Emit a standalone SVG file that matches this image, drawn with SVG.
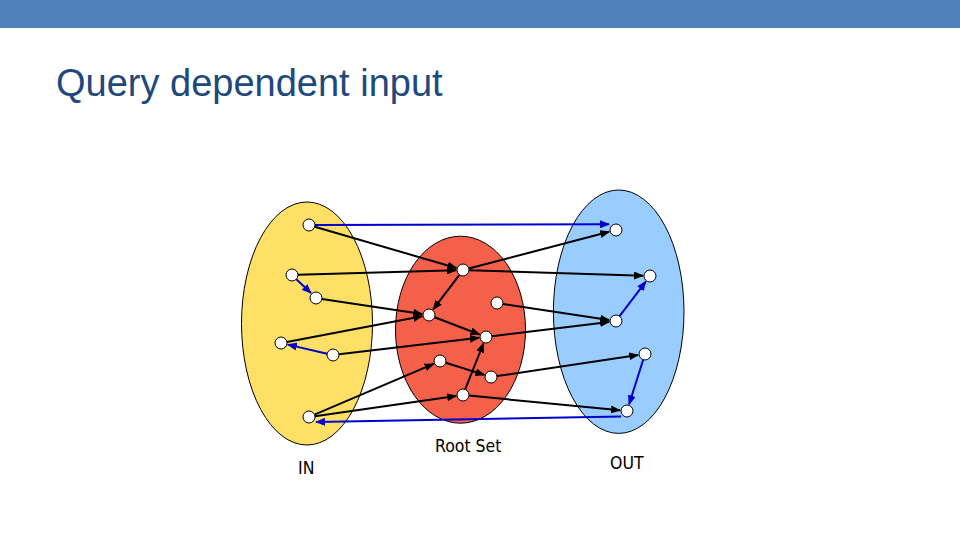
<svg xmlns="http://www.w3.org/2000/svg" width="960" height="540" viewBox="0 0 960 540">
<style>
.set{stroke:#000;stroke-width:1}
.nd{fill:#fff;stroke:#000;stroke-width:1}
.bk{stroke:#000;stroke-width:2;fill:none;marker-end:url(#ab)}
.bl{stroke:#0000CC;stroke-width:2;fill:none;marker-end:url(#au)}
.lbl{font-family:"DejaVu Sans Condensed","DejaVu Sans",sans-serif;font-size:17.5px;fill:#000}
.title{font-family:"Liberation Sans",Arial,sans-serif;font-size:38px;fill:#1F497D}
</style>
<defs>
<marker id="ab" viewBox="0 0 10 8" refX="9" refY="4" markerWidth="5" markerHeight="4" orient="auto"><path d="M0,0 L10,4 L0,8 z" fill="#000"/></marker>
<marker id="au" viewBox="0 0 10 8" refX="9" refY="4" markerWidth="5" markerHeight="4" orient="auto"><path d="M0,0 L10,4 L0,8 z" fill="#0000CC"/></marker>
</defs>
<rect x="0" y="0" width="960" height="28" fill="#4F81BD"/>
<text class="title" x="56" y="96">Query dependent input</text>

<g id="set-in"><ellipse class="set" cx="307" cy="323.5" rx="65.5" ry="121.5" fill="#FFE066"/><text class="lbl" x="298" y="474">IN</text></g>
<g id="set-root"><ellipse class="set" cx="460.5" cy="329.7" rx="65" ry="93.5" fill="#F4604A"/><text class="lbl" x="435" y="452">Root Set</text></g>
<g id="set-out"><ellipse class="set" cx="618.7" cy="311.7" rx="65.3" ry="121.7" fill="#99CCFF"/><text class="lbl" x="610" y="469">OUT</text></g>

<g id="connectors">
<line class="bk" x1="314.8" y1="226.7" x2="456.3" y2="268"/>
<line class="bk" x1="298" y1="274.8" x2="456" y2="270.2"/>
<line class="bk" x1="468.8" y1="268.5" x2="609.2" y2="231.8"/>
<line class="bk" x1="469" y1="270.2" x2="643" y2="275.8"/>
<line class="bk" x1="459.4" y1="274.8" x2="433.2" y2="309.4"/>
<line class="bk" x1="321.9" y1="298.9" x2="422.1" y2="314"/>
<line class="bk" x1="286.9" y1="341.9" x2="422.1" y2="316.3"/>
<line class="bk" x1="434.6" y1="317.2" x2="479.5" y2="334.5"/>
<line class="bk" x1="339" y1="354.3" x2="479" y2="337.8"/>
<line class="bk" x1="502.9" y1="303.9" x2="609.1" y2="320"/>
<line class="bk" x1="492" y1="336.3" x2="609.1" y2="321.9"/>
<line class="bk" x1="314.5" y1="414.6" x2="433.6" y2="363.8"/>
<line class="bk" x1="445.7" y1="362.8" x2="484.3" y2="374.9"/>
<line class="bk" x1="496.9" y1="376.1" x2="638.1" y2="355"/>
<line class="bk" x1="314.9" y1="416.2" x2="456.1" y2="396"/>
<line class="bk" x1="465.2" y1="389.4" x2="483.4" y2="343.5"/>
<line class="bk" x1="469" y1="395.6" x2="620" y2="410.3"/>
<line class="bl" x1="315" y1="225" x2="609" y2="224.3"/>
<line class="bl" x1="296.3" y1="279.2" x2="311" y2="293.1"/>
<line class="bl" x1="327.2" y1="353.7" x2="287.8" y2="344.6"/>
<line class="bl" x1="621" y1="416.5" x2="316" y2="422"/>
<line class="bl" x1="619.6" y1="316.2" x2="645.8" y2="281.6"/>
<line class="bl" x1="643.2" y1="359.7" x2="629.1" y2="404.3"/>
</g>

<g id="in-1"><circle class="nd" cx="309" cy="225" r="6"/></g>
<g id="in-2"><circle class="nd" cx="292" cy="275" r="6"/></g>
<g id="in-3"><circle class="nd" cx="316" cy="298" r="6"/></g>
<g id="in-4"><circle class="nd" cx="281" cy="343" r="6"/></g>
<g id="in-5"><circle class="nd" cx="333" cy="355" r="6"/></g>
<g id="in-6"><circle class="nd" cx="309" cy="417" r="6"/></g>
<g id="root-1"><circle class="nd" cx="463" cy="270" r="6"/></g>
<g id="root-2"><circle class="nd" cx="429" cy="315" r="6"/></g>
<g id="root-3"><circle class="nd" cx="486" cy="337" r="6"/></g>
<g id="root-4"><circle class="nd" cx="440" cy="361" r="6"/></g>
<g id="root-5"><circle class="nd" cx="491" cy="377" r="6"/></g>
<g id="root-6"><circle class="nd" cx="463" cy="395" r="6"/></g>
<g id="root-7"><circle class="nd" cx="497" cy="303" r="6"/></g>
<g id="out-1"><circle class="nd" cx="616" cy="230" r="6"/></g>
<g id="out-2"><circle class="nd" cx="650" cy="276" r="6"/></g>
<g id="out-3"><circle class="nd" cx="616" cy="321" r="6"/></g>
<g id="out-4"><circle class="nd" cx="645" cy="354" r="6"/></g>
<g id="out-5"><circle class="nd" cx="627" cy="411" r="6"/></g>
</svg>
